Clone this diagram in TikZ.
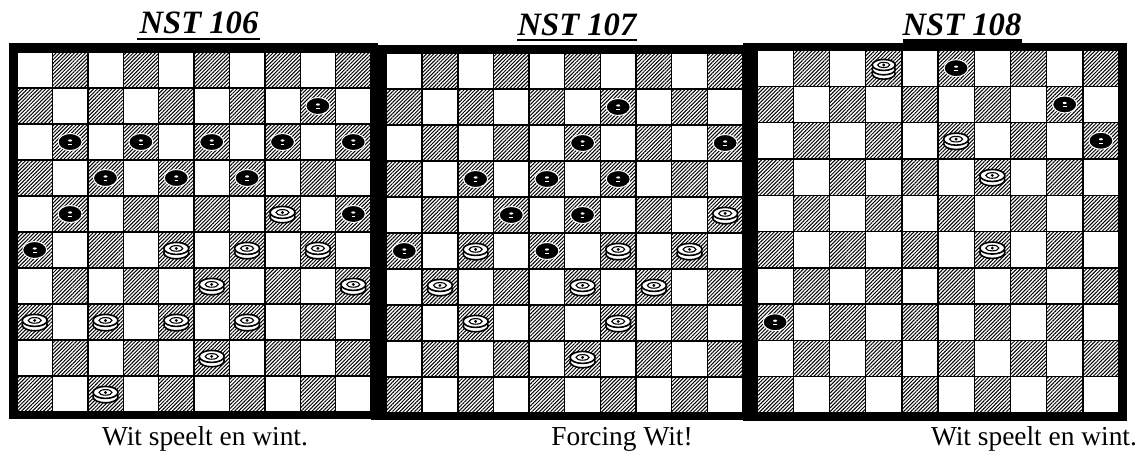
\documentclass[tikz,border=0pt]{standalone}
\usepackage{fontspec}
\setmainfont{Liberation Serif}
\usetikzlibrary{patterns.meta}
\tikzset{
  hatch/.style={pattern={Lines[angle=45,distance=1.3pt,line width=0.5pt]}},
  gridline/.style={line width=0.7pt},
  title/.style={font=\bfseries\itshape\fontsize{16.3}{19}\selectfont, anchor=base, inner sep=0pt},
  caption/.style={font=\fontsize{13.7}{16}\selectfont, anchor=base, inner sep=0pt},
  bp/.pic={
    \filldraw[black, draw=white, line width=0.5pt] (0,0) ellipse [x radius=12, y radius=8.5];
    \fill[white] (0,-1.5) ellipse [x radius=2, y radius=1.1];
    \draw[white, line width=0.35pt] (-1.8,2.2) -- (1.8,2.2);
  },
  wp/.pic={
    \filldraw[fill=white, draw=black, line width=0.8pt] (0,2.8) ellipse [x radius=12.5, y radius=6];
    \filldraw[fill=white, draw=black, line width=0.8pt] (0,-1.6) ellipse [x radius=12.5, y radius=6];
    \draw[line width=0.55pt] (0,-1.6) ellipse [x radius=6.5, y radius=2.8];
    \fill (0,-1.6) circle [radius=1.6];
  },
  wk/.pic={
    \filldraw[fill=white, draw=black, line width=0.8pt] (0,5.5) ellipse [x radius=11.5, y radius=5.5];
    \filldraw[fill=white, draw=black, line width=0.8pt] (0,1.2) ellipse [x radius=11.5, y radius=5.5];
    \filldraw[fill=white, draw=black, line width=0.8pt] (0,-3.2) ellipse [x radius=11.5, y radius=5.5];
    \draw[line width=0.55pt] (0,-3.2) ellipse [x radius=6, y radius=2.6];
    \fill (0,-3.2) circle [radius=1.6];
  }
}
\newcommand\drawsquares[4]{%
  \fill[white] (#1,#2) rectangle ({#1+10*#3},{#2+10*#4});
  \foreach \r in {0,...,9}{
    \foreach \c in {0,...,9}{
      \pgfmathtruncatemacro\s{\r+\c}
      \ifodd\s
        \fill[hatch] ({#1+\c*#3},{#2+\r*#4}) rectangle ++(#3,#4);
      \fi
    }
  }
  \foreach \i in {0,...,10}{
    \draw[gridline] ({#1+\i*#3},#2) -- ({#1+\i*#3},{#2+10*#4});
    \draw[gridline] (#1,{#2+\i*#4}) -- ({#1+10*#3},{#2+\i*#4});
  }
}
\begin{document}
\begin{tikzpicture}[x=0.5pt,y=-0.5pt]
\useasboundingbox (0,0) rectangle (1139,451);
\fill[white] (0,0) rectangle (1139,451);
% frames
\fill[black] (9,43) rectangle (378,419);
\fill[black] (371,45) rectangle (750,420);
\fill[black] (743,42.5) rectangle (1127,421);
% boards
\drawsquares{17}{52}{35.4}{36}
\drawsquares{386.5}{53}{35.65}{36}
\drawsquares{757}{50}{36.2}{36.3}
% board 1 pieces
\foreach \r/\c in {1/8,2/1,2/3,2/5,2/7,2/9,3/2,3/4,3/6,4/1,4/9,5/0}
  \pic at ({17+(\c+0.5)*35.4},{52+(\r+0.5)*36}) {bp};
\foreach \r/\c in {4/7,5/4,5/6,5/8,6/5,6/9,7/0,7/2,7/4,7/6,8/5,9/2}
  \pic at ({17+(\c+0.5)*35.4},{52+(\r+0.5)*36}) {wp};
% board 2 pieces
\foreach \r/\c in {1/6,2/5,2/9,3/2,3/4,3/6,4/3,4/5,5/0,5/4}
  \pic at ({386.5+(\c+0.5)*35.65},{53+(\r+0.5)*36}) {bp};
\foreach \r/\c in {4/9,5/2,5/6,5/8,6/1,6/5,6/7,7/2,7/6,8/5}
  \pic at ({386.5+(\c+0.5)*35.65},{53+(\r+0.5)*36}) {wp};
% board 3 pieces
\foreach \r/\c in {0/5,1/8,2/9,7/0}
  \pic at ({757+(\c+0.5)*36.2},{50+(\r+0.5)*36.3}) {bp};
\foreach \r/\c in {2/5,3/6,5/6}
  \pic at ({757+(\c+0.5)*36.2},{50+(\r+0.5)*36.3}) {wp};
\pic at ({757+3.5*36.2},{50+0.5*36.3}) {wk};
% titles
\node[title] (t1) at (199,33) {NST 106};
\draw[line width=1pt] (137,38.5) -- (260,38.5);
\node[title] (t2) at (577,35) {NST 107};
\draw[line width=1pt] (517,40) -- (637,40);
\node[title] (t3) at (962,35) {NST 108};
\fill[black] (903,39) rectangle (1022,44);
% captions
\node[caption] (c1) at (205,445) {Wit speelt en wint.};
\node[caption] (c2) at (622,445) {Forcing Wit!};
\node[caption] (c3) at (1034,445) {Wit speelt en wint.};
\end{tikzpicture}
\end{document}
